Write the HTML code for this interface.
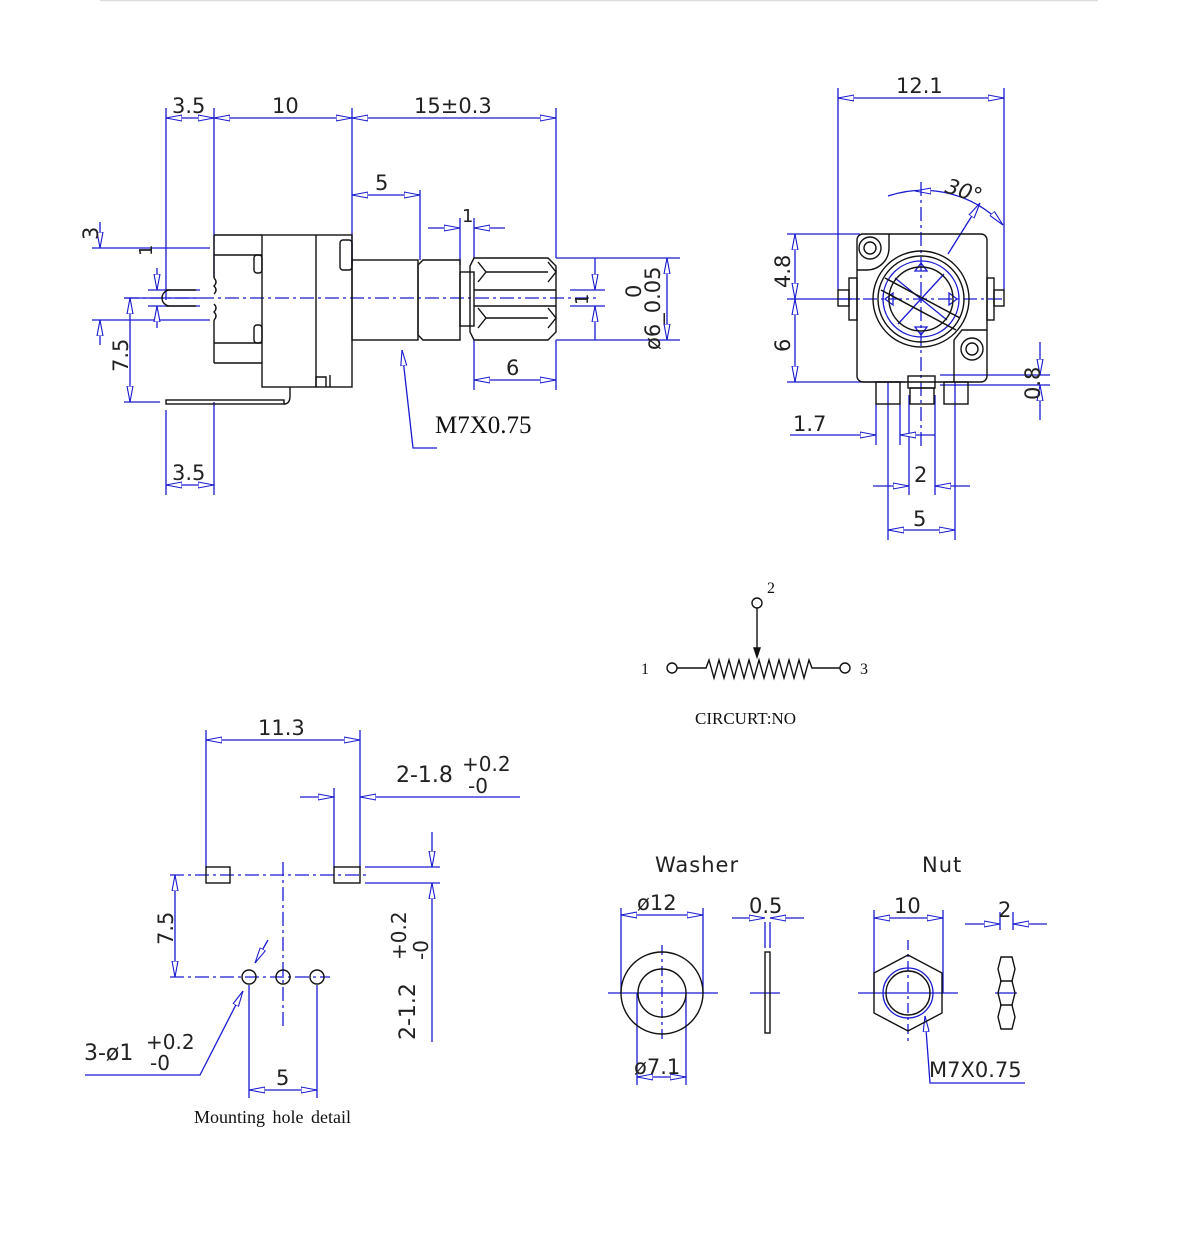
<!DOCTYPE html>
<html><head><meta charset="utf-8"><style>
html,body{margin:0;padding:0;background:#fff;}
svg{display:block;}
.b{stroke:#1a1ad0;stroke-width:1.3;fill:none;}
.k{stroke:#111;stroke-width:1.4;fill:none;}
.c{stroke:#1a1ad0;stroke-width:1.2;fill:none;stroke-dasharray:14 4 3 4;}
.t{font-family:"DejaVu Sans","Liberation Sans",sans-serif;font-size:21px;fill:#222;}
.s{font-family:"Liberation Serif",serif;fill:#111;}
</style></head><body>
<svg width="1179" height="1255" viewBox="0 0 1179 1255" xmlns="http://www.w3.org/2000/svg">
<defs>
<marker id="a" viewBox="0 0 16 8" refX="16" refY="4" markerWidth="16" markerHeight="8" markerUnits="userSpaceOnUse" orient="auto-start-reverse">
<path d="M0,1 L16,4 L0,7 Z" fill="#fff" stroke="#1a1ad0" stroke-width="1.1"/></marker>
</defs>
<line x1="100" y1="0.5" x2="1098" y2="0.5" stroke="#ddd" stroke-width="1.5"/>

<!-- ===== LEFT SIDE VIEW ===== -->
<g class="b">
<line x1="166" y1="108" x2="166" y2="300"/><line x1="214" y1="108" x2="214" y2="278"/>
<line x1="352" y1="108" x2="352" y2="265"/><line x1="556" y1="108" x2="556" y2="258"/>
<line x1="166" y1="118" x2="214" y2="118" marker-start="url(#a)" marker-end="url(#a)"/>
<line x1="214" y1="118" x2="352" y2="118" marker-start="url(#a)" marker-end="url(#a)"/>
<line x1="352" y1="118" x2="556" y2="118" marker-start="url(#a)" marker-end="url(#a)"/>
<line x1="420" y1="190" x2="420" y2="260"/>
<line x1="352" y1="195" x2="420" y2="195" marker-start="url(#a)" marker-end="url(#a)"/>
<line x1="460" y1="218" x2="460" y2="265"/><line x1="474" y1="218" x2="474" y2="258"/>
<line x1="428" y1="228" x2="460" y2="228" marker-end="url(#a)"/>
<line x1="505" y1="228" x2="474" y2="228" marker-end="url(#a)"/>
<line x1="92" y1="248" x2="210" y2="248"/><line x1="92" y1="320" x2="210" y2="320"/>
<line x1="100" y1="222" x2="100" y2="248" marker-end="url(#a)"/>
<line x1="100" y1="345" x2="100" y2="320" marker-end="url(#a)"/>
<line x1="148" y1="290" x2="200" y2="290"/><line x1="148" y1="306" x2="200" y2="306"/>
<line x1="157" y1="268" x2="157" y2="290" marker-end="url(#a)"/>
<line x1="157" y1="328" x2="157" y2="306" marker-end="url(#a)"/>
<line x1="124" y1="298" x2="200" y2="298"/>
<line x1="124" y1="402" x2="160" y2="402"/>
<line x1="130" y1="298" x2="130" y2="402" marker-start="url(#a)" marker-end="url(#a)"/>
<line x1="166" y1="410" x2="166" y2="495"/><line x1="214" y1="402" x2="214" y2="495"/>
<line x1="166" y1="485" x2="214" y2="485" marker-start="url(#a)" marker-end="url(#a)"/>
<line x1="556" y1="258" x2="680" y2="258"/><line x1="556" y1="340" x2="680" y2="340"/>
<line x1="667" y1="258" x2="667" y2="340" marker-start="url(#a)" marker-end="url(#a)"/>
<line x1="570" y1="290" x2="605" y2="290"/><line x1="570" y1="306" x2="605" y2="306"/>
<line x1="595" y1="258" x2="595" y2="290" marker-end="url(#a)"/>
<line x1="595" y1="340" x2="595" y2="306" marker-end="url(#a)"/>
<line x1="474" y1="340" x2="474" y2="390"/><line x1="556" y1="340" x2="556" y2="390"/>
<line x1="474" y1="380" x2="556" y2="380" marker-start="url(#a)" marker-end="url(#a)"/>
<polyline points="402,350 413,448 437,448" marker-start="url(#a)"/>
</g>
<line class="c" x1="125" y1="298" x2="600" y2="298"/>
<g class="k">
<rect x="262" y="235" width="90" height="152"/>
<line x1="316" y1="235" x2="316" y2="387"/>
<polyline points="214,235 262,235"/><polyline points="214,255 262,255"/>
<polyline points="214,343 262,343"/><polyline points="214,363 262,363"/>
<line x1="214" y1="235" x2="214" y2="278"/><line x1="214" y1="320" x2="214" y2="363"/>
<path d="M214,278 q4,4 0,8 q4,4 0,8 M214,304 q4,4 0,8 q4,4 0,8"/>
<path d="M166,290 h30 M166,306 h30 M170,290 a8,8 0 0 0 0,16"/>
<rect x="166" y="400" width="118" height="4"/>
<path d="M284,404 q6,0 6,-8 v-9"/>
<rect x="340" y="240" width="12" height="30" rx="3"/>
<rect x="254" y="255" width="8" height="18" rx="3"/><rect x="254" y="325" width="8" height="18" rx="3"/>
<path d="M316,387 v-10 h10 v10 M330,387 v-12"/>
<rect x="352" y="260" width="66" height="80"/>
<path d="M418,265 l5,-5 h37 v80 h-37 l-5,-5 z"/>
<rect x="460" y="272" width="14" height="54"/>
<path d="M474,258 h74 l8,8 v66 l-8,8 h-74 l-4,-8 v-66 z"/>
<path d="M478,262 l8,10 -8,10 M548,262 l8,10 -8,10 M478,308 l8,10 -8,10 M548,308 l8,10 -8,10 M486,272 h62 M486,318 h62"/>
<path d="M474,290 h82 M474,306 h82"/>
</g>
<g class="t">
<text x="172" y="113">3.5</text><text x="272" y="113">10</text><text x="414" y="113">15±0.3</text>
<text x="375" y="190">5</text><text x="462" y="222" font-size="18">1</text>
<text x="172" y="480">3.5</text><text x="506" y="375">6</text>
<text transform="translate(98,240) rotate(-90)">3</text>
<text transform="translate(152,256) rotate(-90)" font-size="18">1</text>
<text transform="translate(128,372) rotate(-90)">7.5</text>
<text transform="translate(588,305) rotate(-90)" font-size="18">1</text>
<text transform="translate(641,298) rotate(-90)">0</text>
<text transform="translate(660,350) rotate(-90)">ø6_0.05</text>
</g>
<text class="s" x="435" y="433" font-size="25">M7X0.75</text>

<!-- ===== RIGHT FRONT VIEW ===== -->
<g class="b">
<line x1="838" y1="88" x2="838" y2="290"/><line x1="1004" y1="88" x2="1004" y2="290"/>
<line x1="838" y1="98" x2="1004" y2="98" marker-start="url(#a)" marker-end="url(#a)"/>
<line x1="787" y1="234" x2="860" y2="234"/><line x1="787" y1="299" x2="860" y2="299"/><line x1="787" y1="382" x2="905" y2="382"/>
<line x1="795" y1="234" x2="795" y2="299" marker-start="url(#a)" marker-end="url(#a)"/>
<line x1="795" y1="299" x2="795" y2="382" marker-start="url(#a)" marker-end="url(#a)"/>
<path d="M888,196 A110,110 0 0 1 1003,225" marker-end="url(#a)"/>
<line x1="948" y1="254" x2="980" y2="203" marker-end="url(#a)"/>
<line x1="915" y1="191" x2="921" y2="191" marker-start="url(#a)"/>
<line x1="940" y1="375" x2="1050" y2="375"/><line x1="940" y1="385" x2="1050" y2="385"/>
<line x1="1040" y1="342" x2="1040" y2="375" marker-end="url(#a)"/>
<line x1="1040" y1="420" x2="1040" y2="385" marker-end="url(#a)"/>
<line x1="876" y1="404" x2="876" y2="445"/><line x1="888" y1="382" x2="888" y2="540"/>
<line x1="900" y1="404" x2="900" y2="445"/><line x1="909" y1="395" x2="909" y2="495"/>
<line x1="935" y1="395" x2="935" y2="495"/><line x1="955" y1="382" x2="955" y2="540"/>
<line x1="790" y1="435" x2="876" y2="435" marker-end="url(#a)"/>
<line x1="935" y1="435" x2="900" y2="435" marker-end="url(#a)"/>
<line x1="873" y1="486" x2="909" y2="486" marker-end="url(#a)"/>
<line x1="970" y1="486" x2="935" y2="486" marker-end="url(#a)"/>
<line x1="888" y1="530" x2="955" y2="530" marker-start="url(#a)" marker-end="url(#a)"/>
<line x1="921" y1="182" x2="921" y2="450" stroke-dasharray="14 4 3 4"/>
<line x1="838" y1="299" x2="1006" y2="299" stroke-dasharray="14 4 3 4"/>
<circle cx="921" cy="299" r="38"/>
<line x1="895" y1="278" x2="947" y2="320"/><line x1="898" y1="324" x2="944" y2="274"/>
<path d="M885,299 l8,-6 0,12z M957,299 l-8,-6 0,12z M921,263 l-6,8 12,0z M921,335 l-6,-8 12,0z" />
</g>
<g class="k">
<rect x="857" y="234" width="130" height="148" rx="6"/>
<circle cx="921" cy="299" r="48"/><circle cx="921" cy="299" r="43"/><circle cx="921" cy="299" r="32"/>
<path d="M885,278 L960,318 M881,290 L956,330" stroke-width="1.5"/>
<rect x="849" y="278" width="8" height="42"/><rect x="838" y="290" width="11" height="16"/>
<rect x="987" y="278" width="7" height="42"/><rect x="994" y="290" width="10" height="16"/>
<path d="M857,270 h10 a22,22 0 0 0 22,-22 v-14"/>
<circle cx="870" cy="248" r="11"/><circle cx="870" cy="248" r="6"/>
<path d="M987,330 h-25 l-8,10 v42"/>
<circle cx="972" cy="349" r="11"/><circle cx="972" cy="349" r="6"/>
<rect x="876" y="382" width="24" height="22"/><rect x="908" y="376" width="27" height="12"/><rect x="910" y="388" width="24" height="16"/><rect x="944" y="382" width="24" height="22"/>
</g>
<g class="t">
<text x="896" y="93">12.1</text>
<text transform="translate(944,192) rotate(18)" font-style="italic">30°</text>
<text transform="translate(790,288) rotate(-90)">4.8</text>
<text transform="translate(790,352) rotate(-90)">6</text>
<text transform="translate(1040,400) rotate(-90)">0.8</text>
<text x="793" y="431">1.7</text><text x="914" y="482">2</text><text x="913" y="526">5</text>
</g>

<!-- ===== CIRCUIT ===== -->
<g class="k" stroke-width="1.3">
<circle cx="757" cy="603" r="5"/><line x1="757" y1="608" x2="757" y2="648"/>
<path d="M757,657 l-3,-9 6,0z" fill="#111"/>
<circle cx="672" cy="668" r="5"/><circle cx="845" cy="668" r="5"/>
<polyline points="677,668 706,668 709,660 714,678 719,660 724,678 729,660 734,678 739,660 744,678 749,660 754,678 759,660 764,678 769,660 774,678 779,660 784,678 789,660 794,678 799,660 804,678 809,660 812,668 840,668"/>
</g>
<g class="s" font-size="16">
<text x="767" y="593">2</text><text x="641" y="674">1</text><text x="860" y="674">3</text>
<text x="695" y="724" font-size="17">CIRCURT:NO</text>
</g>

<!-- ===== MOUNTING HOLE DETAIL ===== -->
<g class="b">
<line x1="206" y1="730" x2="206" y2="868"/><line x1="360" y1="730" x2="360" y2="868"/>
<line x1="206" y1="740" x2="360" y2="740" marker-start="url(#a)" marker-end="url(#a)"/>
<line x1="334" y1="788" x2="334" y2="868"/>
<line x1="300" y1="797" x2="334" y2="797" marker-end="url(#a)"/>
<line x1="520" y1="797" x2="360" y2="797" marker-end="url(#a)"/>
<line x1="365" y1="867" x2="440" y2="867"/><line x1="365" y1="883" x2="440" y2="883"/>
<line x1="432" y1="832" x2="432" y2="867" marker-end="url(#a)"/>
<line x1="432" y1="1042" x2="432" y2="883" marker-end="url(#a)"/>
<line x1="170" y1="875" x2="370" y2="875" stroke-dasharray="14 4 3 4"/>
<line x1="170" y1="977" x2="330" y2="977" stroke-dasharray="14 4 3 4"/>
<line x1="283" y1="862" x2="283" y2="1028" stroke-dasharray="14 4 3 4"/>
<line x1="175" y1="875" x2="175" y2="977" marker-start="url(#a)" marker-end="url(#a)"/>
<line x1="249" y1="985" x2="249" y2="1098"/><line x1="317" y1="985" x2="317" y2="1098"/>
<line x1="249" y1="1090" x2="317" y2="1090" marker-start="url(#a)" marker-end="url(#a)"/>
<polyline points="85,1075 200,1075 243,991" marker-end="url(#a)"/>
<line x1="268" y1="940" x2="255" y2="963" marker-end="url(#a)"/>
</g>
<g class="k">
<rect x="206" y="867" width="24" height="16"/><rect x="334" y="867" width="26" height="16"/>
<circle cx="249" cy="977" r="7"/><circle cx="283" cy="977" r="7"/><circle cx="317" cy="977" r="7"/>
</g>
<g class="t">
<text x="258" y="735">11.3</text>
<text x="396" y="782" font-size="22">2-1.8</text><text x="462" y="771" font-size="20">+0.2</text><text x="468" y="793" font-size="20">-0</text>
<text transform="translate(173,945) rotate(-90)">7.5</text>
<text transform="translate(415,1040) rotate(-90)" font-size="22">2-1.2</text>
<text transform="translate(406,960) rotate(-90)" font-size="20">+0.2</text>
<text transform="translate(428,960) rotate(-90)" font-size="20">-0</text>
<text x="84" y="1060" font-size="22">3-ø1</text><text x="146" y="1049" font-size="20">+0.2</text><text x="150" y="1070" font-size="20">-0</text>
<text x="276" y="1085">5</text>
</g>
<text class="s" x="194" y="1123" font-size="18" word-spacing="3">Mounting hole detail</text>

<!-- ===== WASHER ===== -->
<g class="b">
<line x1="621" y1="908" x2="621" y2="993"/><line x1="703" y1="908" x2="703" y2="993"/>
<line x1="621" y1="915" x2="703" y2="915" marker-start="url(#a)" marker-end="url(#a)"/>
<line x1="608" y1="993" x2="718" y2="993"/><line x1="662" y1="945" x2="662" y2="1042" stroke-dasharray="10 4 3 4"/>
<line x1="637" y1="993" x2="637" y2="1085"/><line x1="686" y1="993" x2="686" y2="1085"/>
<line x1="637" y1="1077" x2="686" y2="1077" marker-start="url(#a)" marker-end="url(#a)"/>
<line x1="765" y1="922" x2="765" y2="948"/><line x1="770" y1="922" x2="770" y2="948"/>
<line x1="732" y1="918" x2="765" y2="918" marker-end="url(#a)"/>
<line x1="804" y1="918" x2="770" y2="918" marker-end="url(#a)"/>
<line x1="750" y1="993" x2="780" y2="993"/>
</g>
<g class="k"><circle cx="662" cy="993" r="41"/><circle cx="662" cy="993" r="24"/><rect x="765" y="952" width="5" height="81"/></g>
<g class="t"><text x="655" y="872" letter-spacing="1">Washer</text><text x="637" y="910">ø12</text><text x="749" y="913">0.5</text><text x="634" y="1074">ø7.1</text></g>

<!-- ===== NUT ===== -->
<g class="b">
<line x1="874" y1="910" x2="874" y2="993"/><line x1="943" y1="910" x2="943" y2="993"/>
<line x1="874" y1="918" x2="943" y2="918" marker-start="url(#a)" marker-end="url(#a)"/>
<line x1="858" y1="993" x2="958" y2="993"/><line x1="908" y1="940" x2="908" y2="1045" stroke-dasharray="10 4 3 4"/>
<circle cx="908" cy="993" r="25"/>
<line x1="1000" y1="912" x2="1000" y2="930"/><line x1="1013" y1="912" x2="1013" y2="930"/>
<line x1="965" y1="924" x2="1000" y2="924" marker-end="url(#a)"/>
<line x1="1047" y1="924" x2="1013" y2="924" marker-end="url(#a)"/>
<line x1="995" y1="993" x2="1017" y2="993"/>
<polyline points="1025,1083 930,1083 925,1016" marker-end="url(#a)"/>
</g>
<g class="k">
<polygon points="908,955 942,973 942,1013 908,1031 874,1013 874,973"/>
<circle cx="908" cy="993" r="22"/>
<path d="M1001,957 h11 l3,12 -3,12 3,12 -3,12 3,12 -3,12 h-11 l-3,-12 3,-12 -3,-12 3,-12 -3,-12 3,-12z M1000,981 h13 M1000,1005 h13"/>
</g>
<g class="t"><text x="922" y="872" letter-spacing="1">Nut</text><text x="894" y="913">10</text><text x="998" y="917">2</text><text x="929" y="1077">M7X0.75</text></g>
</svg>
</body></html>
